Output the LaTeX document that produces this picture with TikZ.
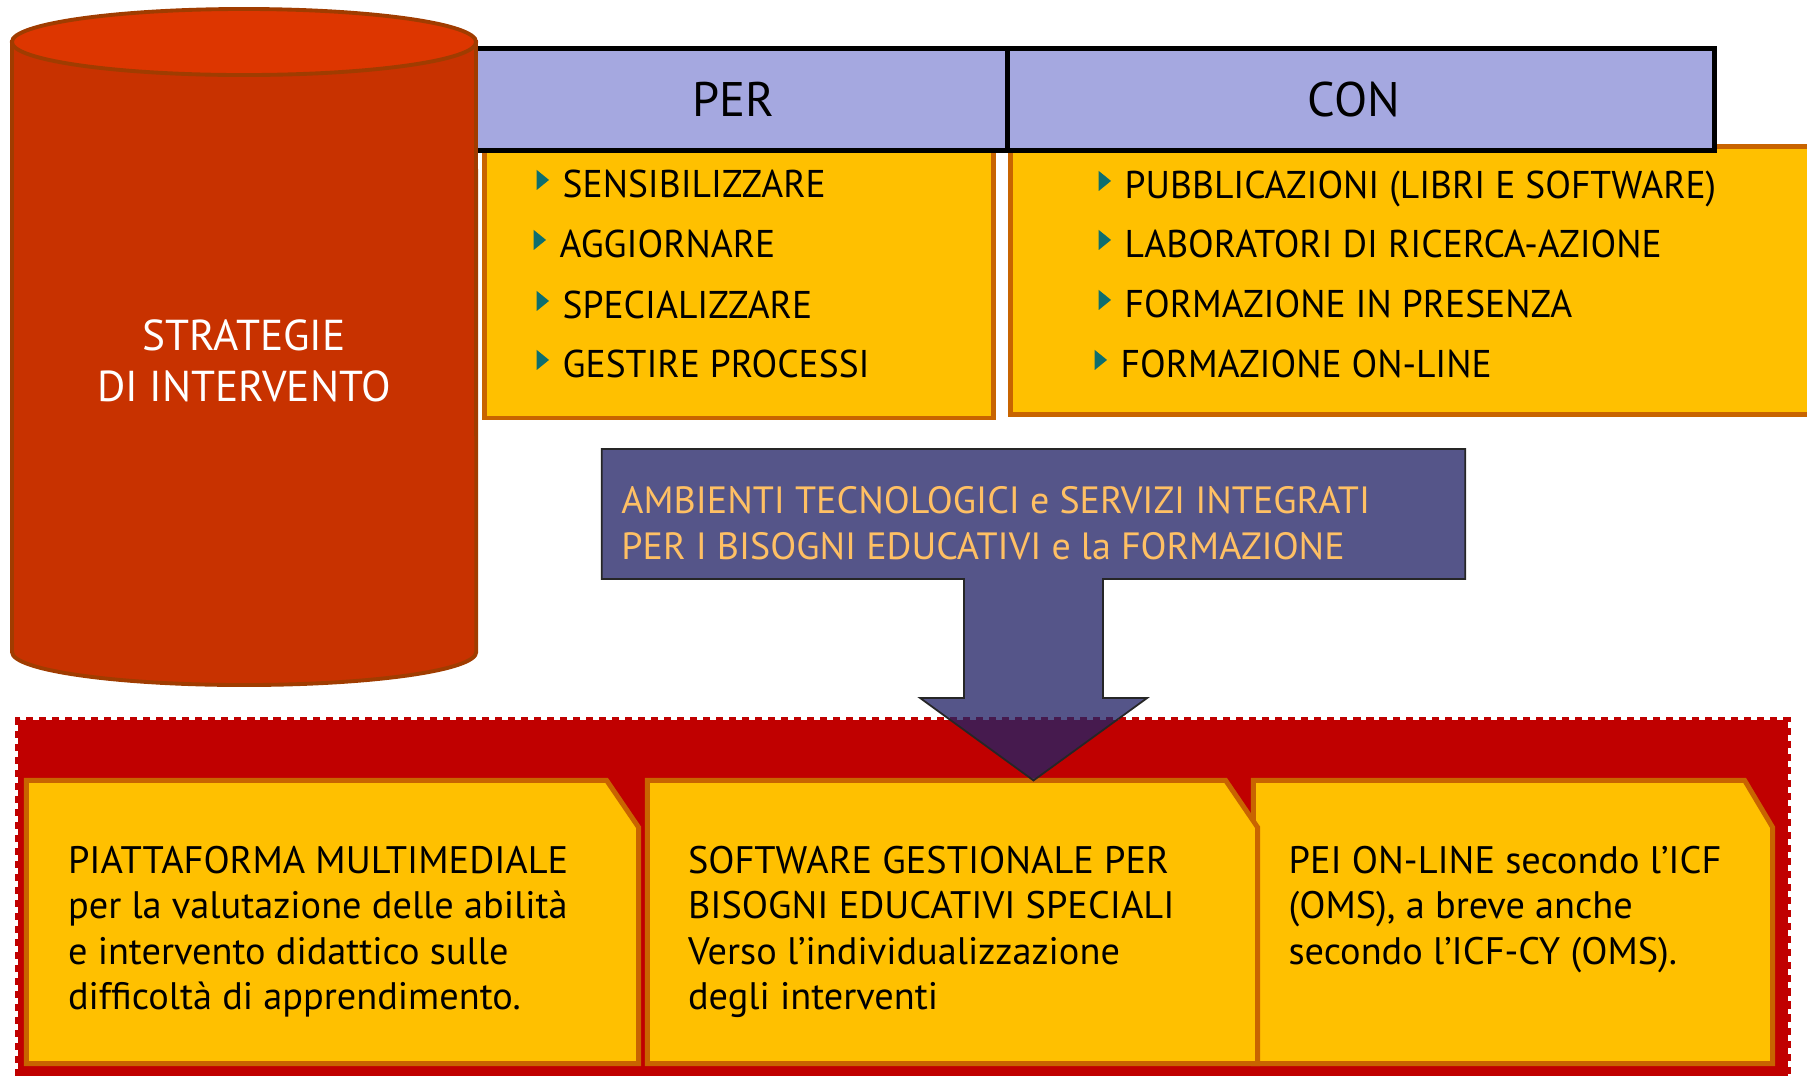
\documentclass[tikz,border=0pt]{standalone}
\usepackage{fontspec}
\setmainfont{PT Sans}
\newfontfamily\condfont{PT Sans}[FakeStretch=0.97]
\usepackage{tikz}
\usetikzlibrary{positioning,calc}
\usepackage{xcolor}
\definecolor{CylBody}{RGB}{200,50,0}
\definecolor{CylTop}{RGB}{221,54,0}
\definecolor{CylEdge}{RGB}{160,60,0}
\definecolor{HeadBlue}{RGB}{165,168,224}
\definecolor{BoxYellow}{RGB}{255,192,0}
\definecolor{BoxEdge}{RGB}{200,100,0}
\definecolor{BulTeal}{RGB}{14,110,110}
\definecolor{BandRed}{RGB}{192,0,0}
\definecolor{ArrowInk}{RGB}{34,34,102}
\definecolor{ArrowText}{RGB}{255,192,100}
\newcommand{\bul}{\tikz[baseline=0pt]\fill[BulTeal] (0pt,2pt) -- (0pt,7.7pt) -- (3.5pt,4.85pt) -- cycle;\hspace{3.9pt}}

\begin{document}
\begin{tikzpicture}[x=0.01cm,y=-0.01cm,
  listbox/.style={draw=BoxEdge,fill=BoxYellow,line width=1.3pt,inner sep=0pt},
  headbox/.style={draw=black,fill=HeadBlue,line width=1.4pt,minimum height=1.02cm,
                  inner sep=0pt,font=\fontsize{13.8pt}{16pt}\selectfont},
  item/.style={anchor=base west,inner sep=0pt,font=\condfont\fontsize{11pt}{13pt}\selectfont},
  card/.style={minimum height=2.83cm,inner sep=0pt,outer sep=0pt},
  cardline/.style={draw=BoxEdge,fill=BoxYellow,line width=1.4pt},
  cardtext/.style={align=left,inner sep=0pt,font=\fontsize{10.9pt}{12.8pt}\selectfont},
  band/.style={fill=BandRed,draw=BandRed,line width=1.7pt,dash pattern=on 2pt off 1.7pt,inner sep=0pt},
]
\useasboundingbox (0,0) rectangle (1807,1075);
\node[listbox,minimum width=5.09cm,minimum height=2.675cm] (perbox) at (739,284) {};
\node[listbox,minimum width=8.045cm,minimum height=2.68cm] (conbox) at (1412.75,280.5) {};
\node[headbox,minimum width=5.5cm] (perhead) at (733,99.5) {PER};
\node[headbox,minimum width=7.065cm] (conhead) at (1361.25,99.5) {CON\kern0.15cm};
\node[item] (sens) at (536,197) {\bul SENSIBILIZZARE};
\node[item] (aggi) at (533,257) {\bul AGGIORNARE};
\node[item] (spec) at (536,318) {\bul SPECIALIZZARE};
\node[item] (gest) at (536,377) {\bul GESTIRE PROCESSI};
\node[item] (pubb) at (1098,198) {\bul PUBBLICAZIONI (LIBRI E SOFTWARE)};
\node[item] (labo) at (1098,257) {\bul LABORATORI DI RICERCA-AZIONE};
\node[item] (pres) at (1098,317) {\bul FORMAZIONE IN PRESENZA};
\node[item] (onli) at (1094,377) {\bul FORMAZIONE ON-LINE};
\filldraw[fill=CylBody,draw=CylEdge,line width=1.1pt] (12,42) -- (12,652)
  arc[start angle=180,end angle=360,x radius=2.32cm,y radius=0.33cm] -- (476,42) -- cycle;
\filldraw[fill=CylTop,draw=CylEdge,line width=1.1pt] (244,42) ellipse[x radius=2.32cm,y radius=0.33cm];
\node[text=white,align=center,font=\fontsize{12.3pt}{14.4pt}\selectfont] (strategie) at (244,361) {STRATEGIE\\DI INTERVENTO};
\node[band,minimum width=17.68cm,minimum height=3.8cm] (band) at (903,910) {};
\node[card,minimum width=6.12cm] (piatta) at (332.5,922) {};
\node[card,minimum width=6.10cm] (gestion) at (952.5,922) {};
\node[card,minimum width=5.19cm] (pei) at (1513,922) {};
\draw[cardline] (pei.south west) -- (pei.north west) -- ([xshift=-0.28cm]pei.north east)
  -- ([yshift=-0.47cm]pei.north east) -- (pei.south east) -- cycle;
\draw[cardline] (gestion.south west) -- (gestion.north west) -- ([xshift=-0.32cm]gestion.north east)
  -- ([yshift=-0.47cm]gestion.north east) -- (gestion.south east) -- cycle;
\draw[cardline] (piatta.south west) -- (piatta.north west) -- ([xshift=-0.32cm]piatta.north east)
  -- ([yshift=-0.47cm]piatta.north east) -- (piatta.south east) -- cycle;
\node[cardtext,below right=0.655cm and 0.41cm of piatta.north west] (piattatxt)
  {PIATTAFORMA MULTIMEDIALE\\per la valutazione delle abilità\\e intervento didattico sulle\\difficoltà di apprendimento.};
\node[cardtext,below right=0.655cm and 0.40cm of gestion.north west] (gestiontxt)
  {SOFTWARE GESTIONALE PER\\BISOGNI EDUCATIVI SPECIALI\\Verso l’individualizzazione\\degli interventi};
\node[cardtext,below right=0.655cm and 0.345cm of pei.north west] (peitxt)
  {PEI ON-LINE secondo l’ICF\\(OMS), a breve anche\\secondo l’ICF-CY (OMS).};
\node[minimum width=8.63cm,minimum height=1.30cm,fill=ArrowInk,fill opacity=0.77,
      inner sep=0pt,outer sep=0pt] (ambienti) at (1033.5,514) {};
\fill[ArrowInk,fill opacity=0.77] ([xshift=-0.695cm]ambienti.south) -- ([xshift=0.695cm]ambienti.south)
  -- ++(0,119) -- ++(44,0) -- (ambienti.south |- gestion.north) -- ++(-113.5,-82.5) -- ++(44,0) -- cycle;
\draw[black!85,line width=0.5pt] (ambienti.north west) -- (ambienti.north east) -- (ambienti.south east)
  -- ([xshift=0.695cm]ambienti.south) -- ++(0,119) -- ++(44,0) -- (ambienti.south |- gestion.north)
  -- ++(-113.5,-82.5) -- ++(44,0) -- ([xshift=-0.695cm]ambienti.south) -- (ambienti.south west) -- cycle;
\node[text=ArrowText,align=left,inner sep=0pt,font=\fontsize{10.8pt}{13.1pt}\selectfont,
      below right=0.37cm and 0.19cm of ambienti.north west] (ambientitxt)
  {AMBIENTI TECNOLOGICI e SERVIZI INTEGRATI\\PER I BISOGNI EDUCATIVI e la FORMAZIONE};
\end{tikzpicture}
\end{document}
